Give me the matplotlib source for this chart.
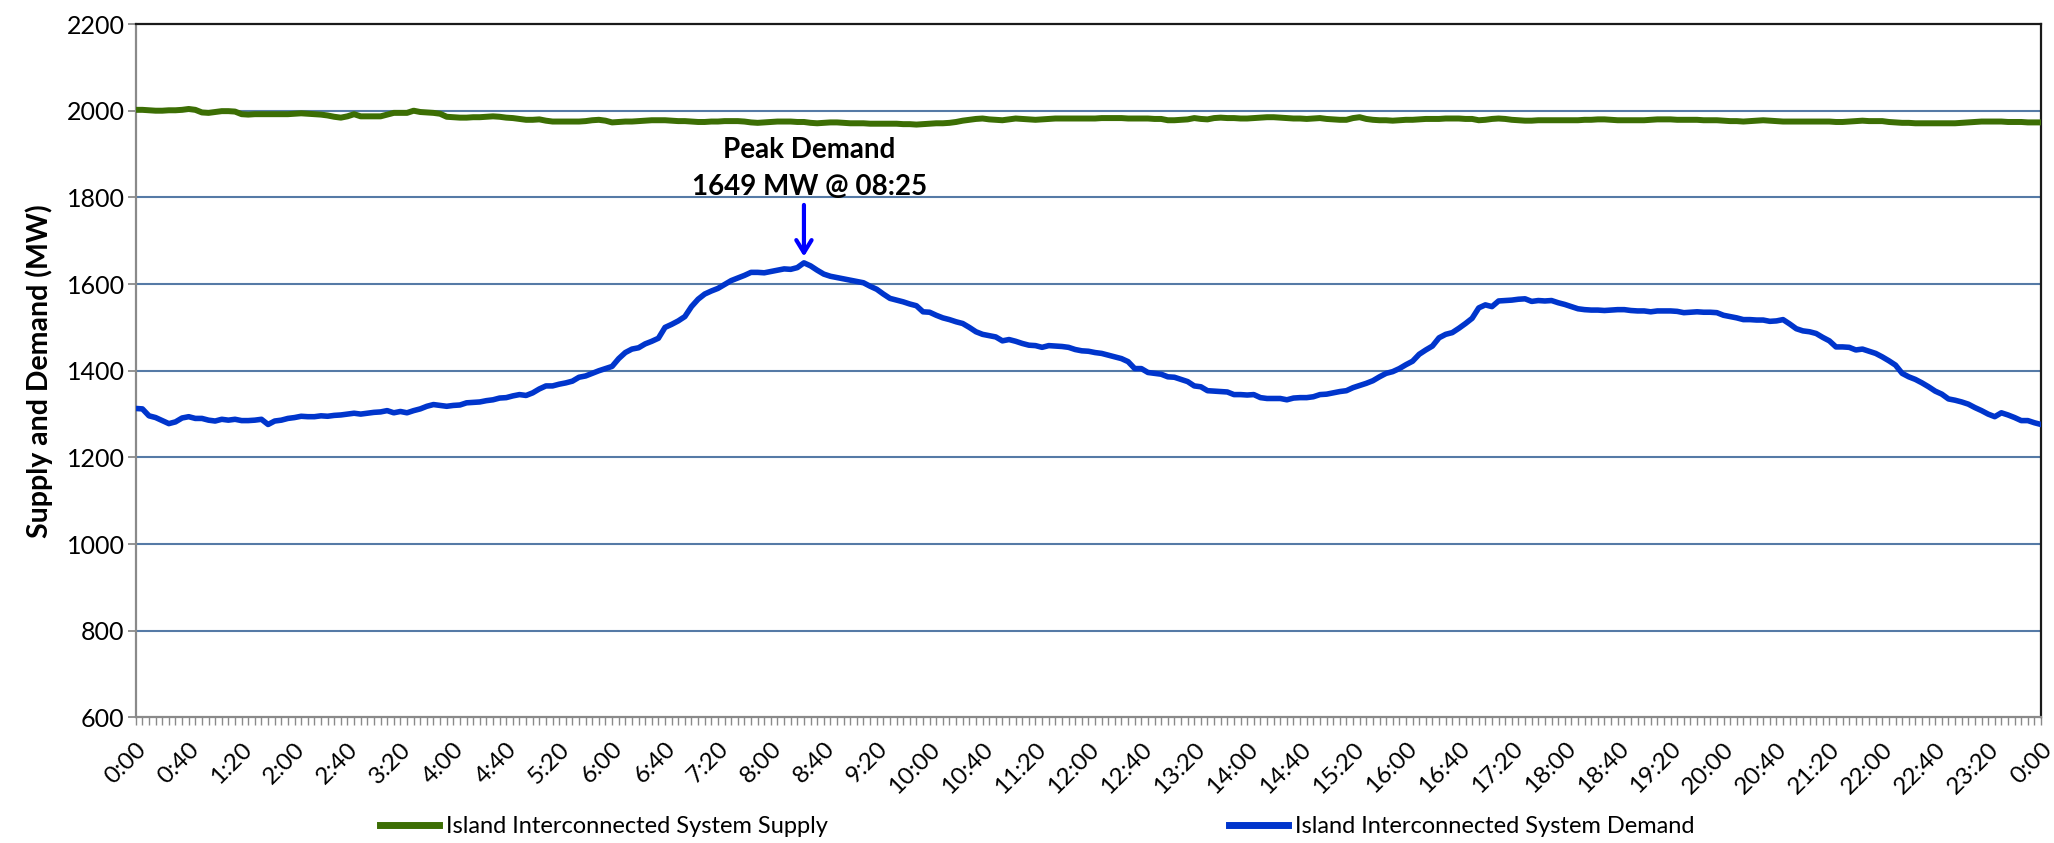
import matplotlib

matplotlib.use("Agg")
import matplotlib.pyplot as plt
import numpy as np
from matplotlib.lines import Line2D

# 5-minute readings, 0:00 through the following 0:00 (289 points)
SUPPLY_MW = [
    2002, 2002, 2001, 2000, 2000, 2001, 2001, 2002, 2004, 2002, 1996, 1995,
    1997, 1999, 1999, 1998, 1992, 1991, 1992, 1992, 1992, 1992, 1992, 1992,
    1993, 1994, 1993, 1992, 1991, 1989, 1986, 1984, 1987, 1992, 1987, 1987,
    1987, 1987, 1991, 1995, 1995, 1995, 2000, 1997, 1996, 1995, 1993, 1986,
    1985, 1984, 1984, 1985, 1985, 1986, 1987, 1986, 1984, 1983, 1981, 1979,
    1979, 1980, 1977, 1975, 1975, 1975, 1975, 1975, 1976, 1978, 1979, 1977,
    1973, 1974, 1975, 1975, 1976, 1977, 1978, 1978, 1978, 1977, 1976, 1976,
    1975, 1974, 1974, 1975, 1975, 1976, 1976, 1976, 1975, 1973, 1972, 1973,
    1974, 1975, 1975, 1975, 1974, 1974, 1972, 1971, 1972, 1973, 1973, 1972,
    1971, 1971, 1971, 1970, 1970, 1970, 1970, 1970, 1969, 1969, 1968, 1969,
    1970, 1971, 1971, 1972, 1974, 1977, 1979, 1981, 1982, 1980, 1979, 1978,
    1980, 1982, 1981, 1980, 1979, 1980, 1981, 1982, 1982, 1982, 1982, 1982,
    1982, 1982, 1983, 1983, 1983, 1983, 1982, 1982, 1982, 1982, 1981, 1981,
    1978, 1978, 1979, 1980, 1983, 1981, 1980, 1983, 1984, 1983, 1983, 1982,
    1982, 1983, 1984, 1985, 1985, 1984, 1983, 1982, 1982, 1981, 1982, 1983,
    1981, 1980, 1979, 1979, 1983, 1985, 1981, 1979, 1978, 1978, 1977, 1978,
    1979, 1979, 1980, 1981, 1981, 1981, 1982, 1982, 1982, 1981, 1981, 1978,
    1979, 1981, 1982, 1981, 1979, 1978, 1977, 1977, 1978, 1978, 1978, 1978,
    1978, 1978, 1978, 1979, 1979, 1980, 1980, 1979, 1978, 1978, 1978, 1978,
    1978, 1979, 1980, 1980, 1980, 1979, 1979, 1979, 1979, 1978, 1978, 1978,
    1977, 1976, 1976, 1975, 1976, 1977, 1978, 1977, 1976, 1975, 1975, 1975,
    1975, 1975, 1975, 1975, 1975, 1974, 1974, 1975, 1976, 1977, 1976, 1976,
    1976, 1974, 1973, 1972, 1972, 1971, 1971, 1971, 1971, 1971, 1971, 1971,
    1972, 1973, 1974, 1975, 1975, 1975, 1975, 1974, 1974, 1974, 1973, 1973,
    1973,
]

DEMAND_MW = [
    1313, 1312, 1296, 1292, 1285, 1278, 1282, 1291, 1294, 1290, 1290, 1286,
    1284, 1288, 1286, 1288, 1285, 1285, 1286, 1288, 1276, 1284, 1286, 1290,
    1292, 1295, 1294, 1294, 1296, 1295, 1297, 1298, 1300, 1302, 1300, 1302,
    1304, 1305, 1308, 1303, 1306, 1303, 1308, 1312, 1318, 1322, 1320, 1318,
    1320, 1321, 1326, 1327, 1328, 1331, 1333, 1337, 1338, 1342, 1345, 1343,
    1349, 1358, 1365, 1365, 1369, 1372, 1376, 1385, 1388, 1394, 1400, 1405,
    1410, 1428, 1442, 1450, 1453, 1462, 1468, 1475, 1500, 1507, 1515, 1525,
    1548, 1565, 1577, 1584, 1590, 1599, 1608, 1614, 1620, 1627, 1627, 1626,
    1629, 1632, 1635, 1634, 1638, 1649, 1642, 1632, 1623, 1618, 1615, 1612,
    1609, 1606, 1603, 1595, 1588, 1577, 1567, 1563, 1559, 1554, 1550, 1536,
    1535, 1528, 1522, 1518, 1513, 1509, 1500, 1490, 1484, 1481, 1478, 1469,
    1472, 1468, 1463, 1459, 1458, 1454, 1458, 1457, 1456, 1454, 1449, 1446,
    1445, 1442, 1440, 1436, 1432, 1428, 1421, 1405, 1405, 1396, 1394, 1392,
    1386, 1385, 1380, 1375, 1365, 1363, 1354, 1353, 1352, 1351, 1345, 1345,
    1344, 1345, 1338, 1336, 1336, 1336, 1333, 1337, 1338, 1338, 1340, 1345,
    1346, 1349, 1352, 1354, 1361, 1366, 1371, 1377, 1386, 1394, 1398, 1405,
    1414, 1422, 1438, 1448, 1457, 1476, 1484, 1488, 1498, 1509, 1521, 1545,
    1552, 1548, 1561, 1562, 1563, 1565, 1566, 1560, 1562, 1561, 1562, 1557,
    1553, 1548, 1543, 1541, 1540, 1540, 1539, 1540, 1541, 1541, 1539, 1538,
    1538, 1536, 1538, 1538, 1538, 1537, 1534, 1535, 1536, 1535, 1535, 1534,
    1528, 1525, 1522, 1518, 1518, 1517, 1517, 1514, 1515, 1518, 1508, 1497,
    1492, 1490, 1486, 1477, 1469, 1455, 1455, 1454, 1448, 1450, 1445, 1440,
    1432, 1423, 1413, 1394, 1386, 1380, 1372, 1363, 1353, 1346, 1335, 1332,
    1328, 1323, 1315, 1308, 1300, 1294, 1303, 1298, 1292, 1285, 1285, 1280,
    1276,
]

STEP_MINUTES = 5
LABEL_EVERY = 8  # one label per 40 minutes
Y_TICKS = [600, 800, 1000, 1200, 1400, 1600, 1800, 2000, 2200]

SUPPLY_LABEL = "Island Interconnected System Supply"
DEMAND_LABEL = "Island Interconnected System Demand"
PEAK_TEXT = "Peak Demand\n1649 MW @ 08:25"

SUPPLY_COLOR = "#3c6e04"
DEMAND_COLOR = "#0035cc"
GRID_COLOR = "#557aa6"
AXIS_GRAY = "#8a8a8a"

FONT = ["Lato", "DejaVu Sans"]


def time_label(index):
    minutes = index * STEP_MINUTES
    return f"{(minutes // 60) % 24}:{minutes % 60:02d}"


def main():
    plt.rcParams["font.family"] = FONT

    fig = plt.figure(figsize=(20.54, 8.43), dpi=100)
    ax = fig.add_axes([0.0661, 0.1489, 0.9276, 0.8226])

    x = np.arange(len(DEMAND_MW))
    ax.plot(x, SUPPLY_MW, color=SUPPLY_COLOR, linewidth=4.3, solid_joinstyle="round", zorder=3)
    ax.plot(x, DEMAND_MW, color=DEMAND_COLOR, linewidth=4.0, solid_joinstyle="round", zorder=3)

    ax.set_xlim(0, len(DEMAND_MW) - 1)
    ax.set_ylim(Y_TICKS[0], Y_TICKS[-1])

    major = list(range(0, len(DEMAND_MW), LABEL_EVERY))
    ax.set_xticks(major)
    ax.set_xticklabels([time_label(i) for i in major], rotation=45, ha="right",
                       va="top", rotation_mode="anchor", fontsize=17.5)
    ax.set_xticks(x, minor=True)
    ax.tick_params(axis="x", which="both", length=6, width=1.0, color=AXIS_GRAY, pad=9)

    ax.set_yticks(Y_TICKS)
    ax.set_yticklabels([str(v) for v in Y_TICKS], fontsize=18)
    ax.tick_params(axis="y", length=6, width=1.3, color=AXIS_GRAY, pad=2)

    for value in Y_TICKS[1:-1]:
        ax.axhline(value, color=GRID_COLOR, linewidth=1.5, zorder=1)

    for side in ("left", "bottom"):
        ax.spines[side].set_color(AXIS_GRAY)
        ax.spines[side].set_linewidth(1.6)
    for side in ("top", "right"):
        ax.spines[side].set_color("#1a1a1a")
        ax.spines[side].set_linewidth(1.6)

    ax.set_ylabel("Supply and Demand (MW)", fontsize=20.5, fontweight="bold", labelpad=10)

    peak_index = int(np.argmax(DEMAND_MW))
    peak_value = DEMAND_MW[peak_index]
    ax.annotate("", xy=(peak_index, peak_value + 8), xytext=(peak_index, peak_value + 140),
                arrowprops=dict(arrowstyle="->,head_length=0.9,head_width=0.55",
                                color="#0000ff", linewidth=3.0))
    ax.text(peak_index + 0.8, peak_value + 145, PEAK_TEXT, ha="center", va="bottom",
            fontsize=20, fontweight="bold", linespacing=1.5)

    handles = [
        Line2D([], [], color=SUPPLY_COLOR, linewidth=5),
        Line2D([], [], color=DEMAND_COLOR, linewidth=5),
    ]
    fig.legend(handles, [SUPPLY_LABEL, DEMAND_LABEL], ncol=2, loc="lower center",
               bbox_to_anchor=(0.505, -0.018), frameon=False, fontsize=17,
               handlelength=2.5, handletextpad=0.3, columnspacing=17)

    fig.savefig("out.png", dpi=100)
    plt.close(fig)


if __name__ == "__main__":
    main()
